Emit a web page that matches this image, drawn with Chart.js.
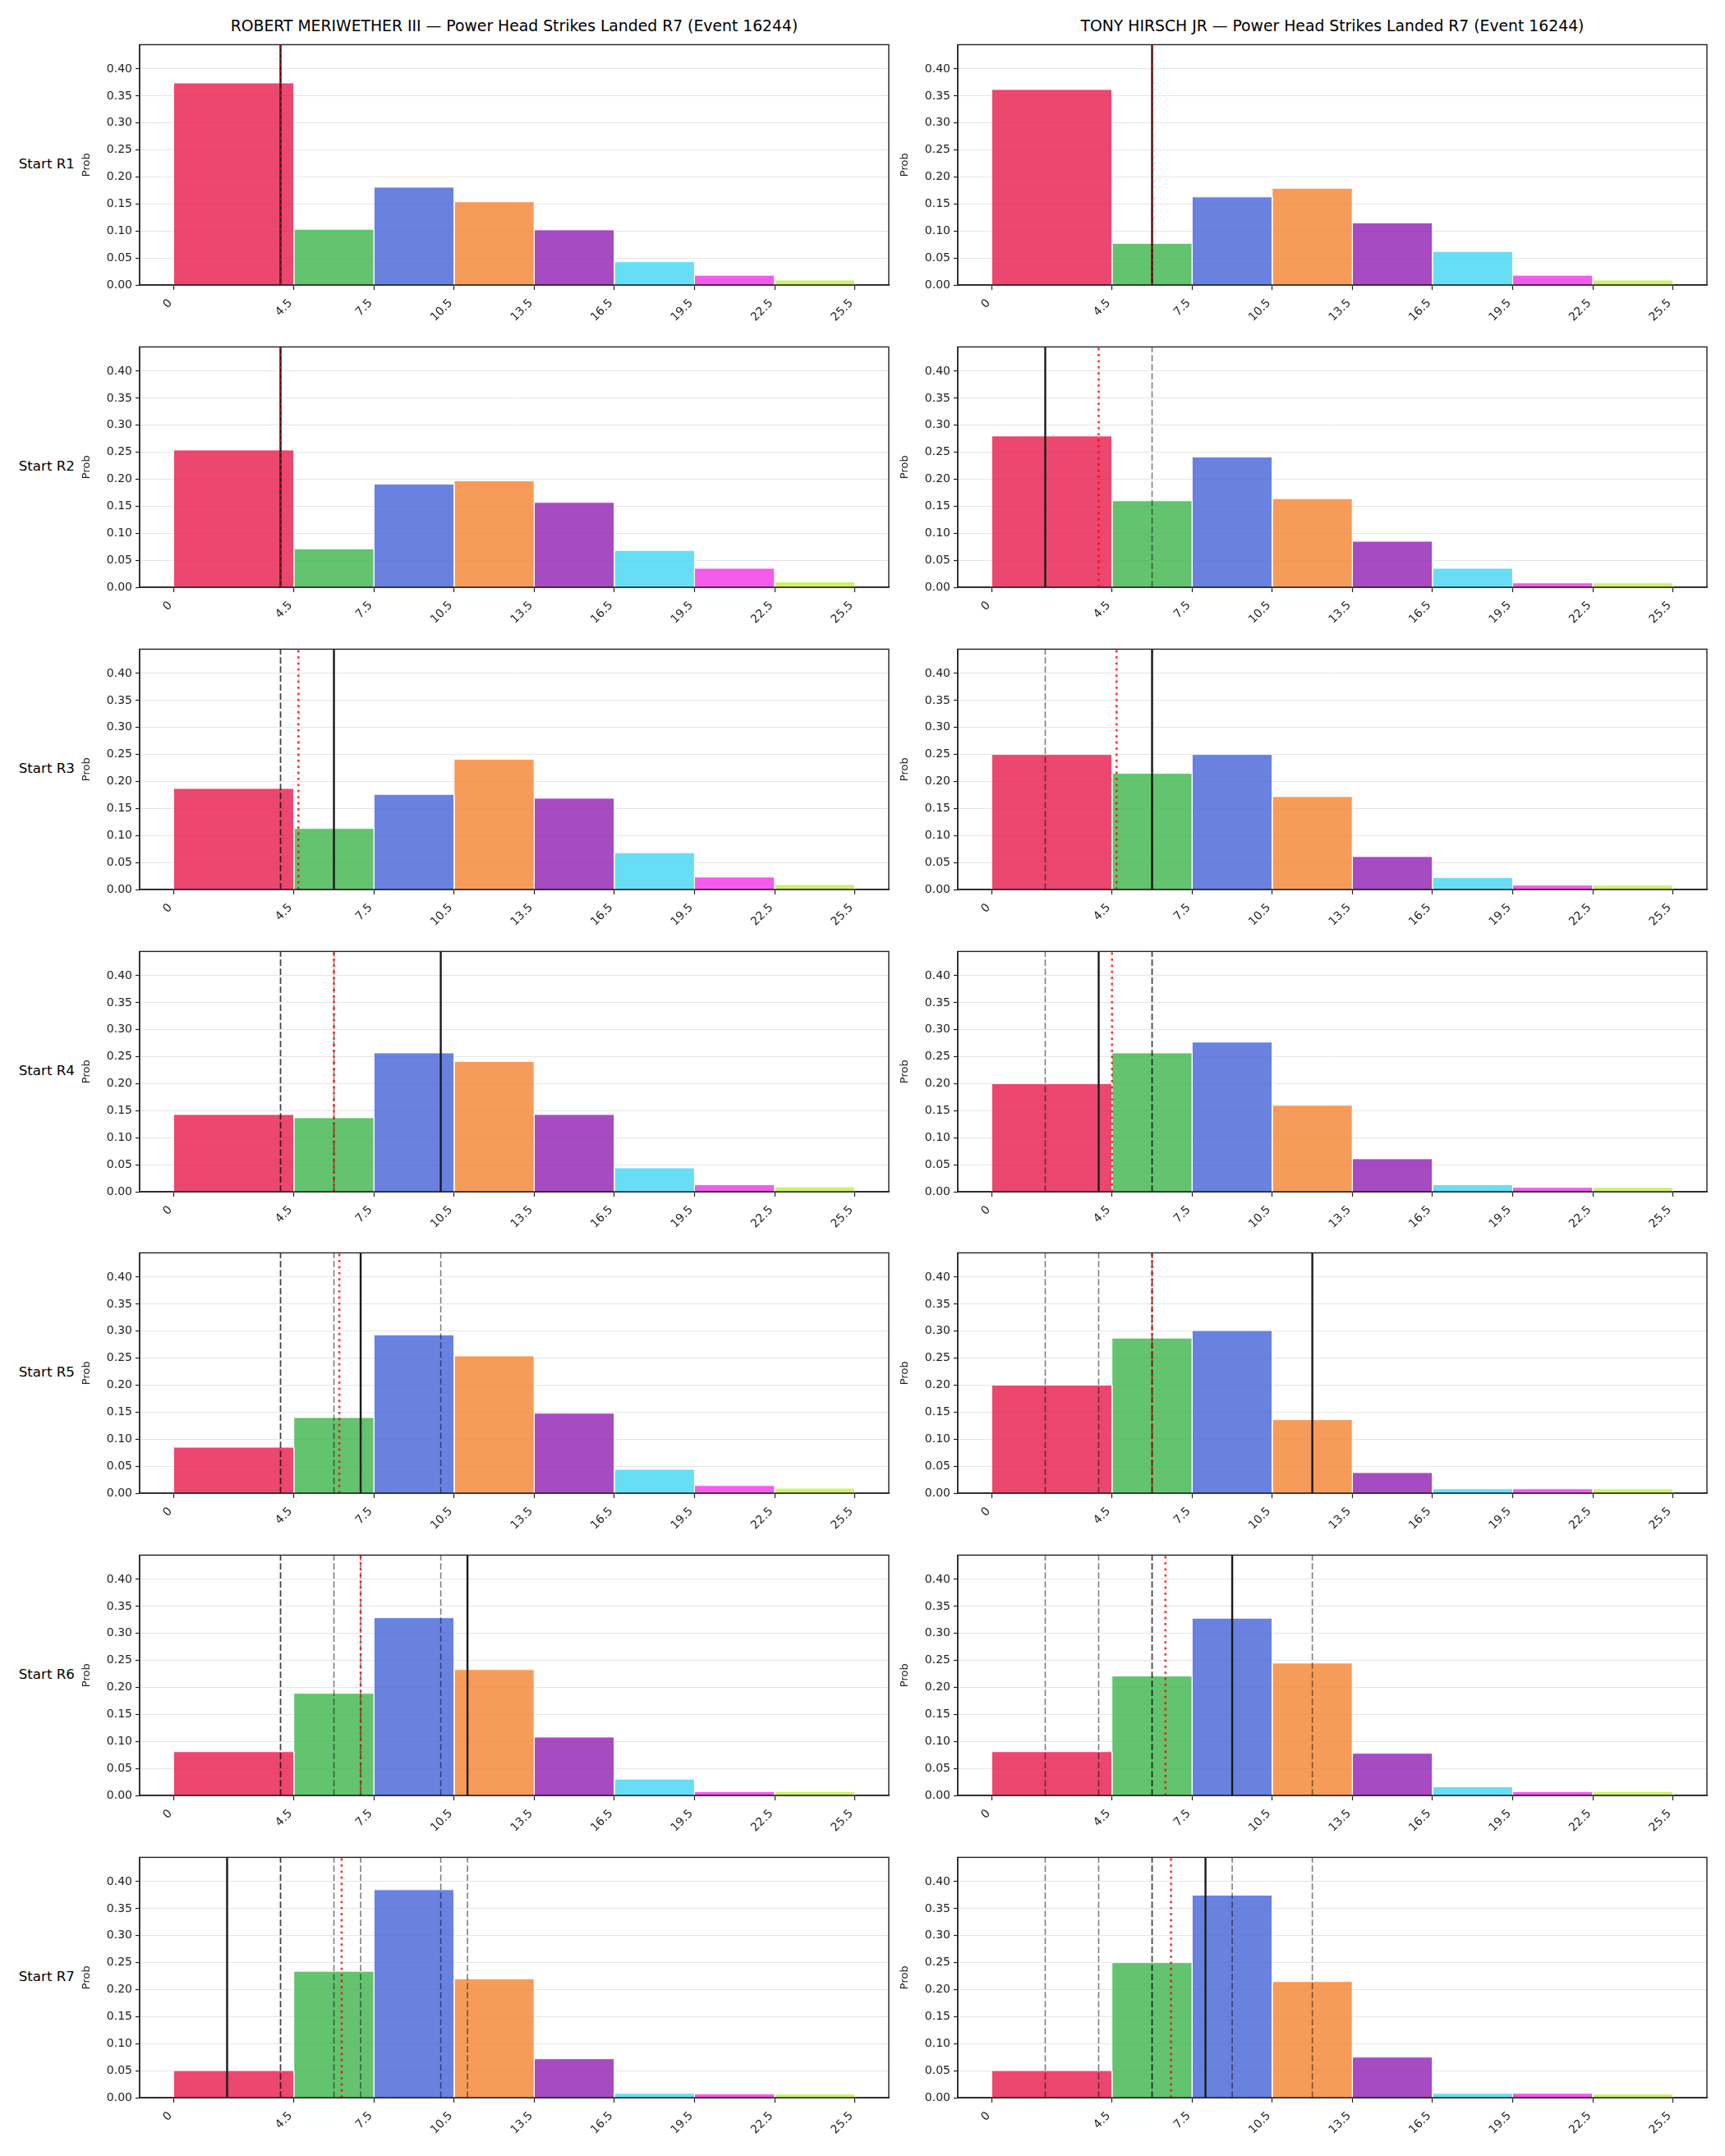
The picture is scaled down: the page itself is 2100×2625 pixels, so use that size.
<!DOCTYPE html>
<html><head><meta charset="utf-8">
<script src="https://cdn.jsdelivr.net/npm/chart.js@4.4.1/dist/chart.umd.min.js"></script>
<style>
html,body{margin:0;padding:0;background:#fff;}
body{width:2100px;height:2625px;position:relative;overflow:hidden;font-family:"DejaVu Sans",sans-serif;}
canvas{position:absolute;}
.title{position:absolute;font-size:18.8px;color:#000;white-space:nowrap;transform:translate(-50%,-50%);}
.rowlab{position:absolute;font-size:16.7px;color:#000;white-space:nowrap;transform:translate(-100%,-50%);}
</style></head><body>
<script>
// ---------------- DATA ----------------
const fighters = ['ROBERT MERIWETHER III', 'TONY HIRSCH JR'];
const titleSuffix = ' — Power Head Strikes Landed R7 (Event 16244)';
const rowLabels = ['Start R1','Start R2','Start R3','Start R4','Start R5','Start R6','Start R7'];
const binEdges = [0, 4.5, 7.5, 10.5, 13.5, 16.5, 19.5, 22.5, 25.5];
const xTickValues = [0, 4.5, 7.5, 10.5, 13.5, 16.5, 19.5, 22.5, 25.5];
const xTickLabels = ['0', '4.5', '7.5', '10.5', '13.5', '16.5', '19.5', '22.5', '25.5'];
const yTickValues = [0, 0.05, 0.10, 0.15, 0.20, 0.25, 0.30, 0.35, 0.40];
const binColors = ['#e6194b','#3cb44b','#4363d8','#f58231','#911eb4','#42d4f4','#f032e6','#bfef45'];

const meriwetherR1 = [0.374, 0.103, 0.181, 0.154, 0.102, 0.043, 0.018, 0.009];
const meriwetherR2 = [0.254, 0.071, 0.191, 0.197, 0.157, 0.068, 0.035, 0.010];
const meriwetherR3 = [0.187, 0.113, 0.176, 0.241, 0.169, 0.068, 0.023, 0.009];
const meriwetherR4 = [0.143, 0.137, 0.257, 0.241, 0.143, 0.044, 0.013, 0.009];
const meriwetherR5 = [0.085, 0.140, 0.293, 0.254, 0.148, 0.044, 0.014, 0.009];
const meriwetherR6 = [0.081, 0.189, 0.329, 0.233, 0.108, 0.030, 0.007, 0.007];
const meriwetherR7 = [0.050, 0.234, 0.385, 0.220, 0.072, 0.008, 0.007, 0.007];

const hirschR1 = [0.362, 0.077, 0.163, 0.179, 0.115, 0.062, 0.018, 0.009];
const hirschR2 = [0.280, 0.160, 0.241, 0.164, 0.085, 0.035, 0.008, 0.008];
const hirschR3 = [0.250, 0.215, 0.250, 0.172, 0.061, 0.022, 0.008, 0.008];
const hirschR4 = [0.200, 0.257, 0.277, 0.160, 0.061, 0.013, 0.008, 0.008];
const hirschR5 = [0.200, 0.287, 0.301, 0.136, 0.038, 0.008, 0.008, 0.008];
const hirschR6 = [0.081, 0.221, 0.328, 0.245, 0.078, 0.016, 0.007, 0.007];
const hirschR7 = [0.050, 0.250, 0.375, 0.215, 0.075, 0.008, 0.008, 0.007];

// line marked for each round (solid); earlier rounds shown dashed; red dotted = running average
const meriwetherLines = [4, 4, 6, 10, 7, 11, 2];
const hirschLines     = [6, 2, 6, 4, 12, 9, 8];
const meriwetherAvg   = [4, 4, 4.67, 6, 6.2, 7, 6.29];
const hirschAvg       = [6, 4, 4.67, 4.5, 6, 6.5, 6.71];

const meriwetherRounds = [meriwetherR1, meriwetherR2, meriwetherR3, meriwetherR4, meriwetherR5, meriwetherR6, meriwetherR7];
const hirschRounds = [hirschR1, hirschR2, hirschR3, hirschR4, hirschR5, hirschR6, hirschR7];

// ---------------- LAYOUT ----------------
const FONT = '"DejaVu Sans", sans-serif';
const frameLeft = [170, 1166];
const frameTop = [50, 418, 786, 1154, 1521, 1889, 2257];
const FW = 912, FH = 297;
const YW = 72, PT = 8, PR = 10, XH = 70;
const X_MIN = -1.275, X_MAX = 26.775, Y_MAX = 0.445;

function hexA(hex, a) {
  const n = parseInt(hex.slice(1), 16);
  return `rgba(${(n>>16)&255},${(n>>8)&255},${n&255},${a})`;
}

const framePlugin = {
  id: 'frame',
  afterDraw(chart) {
    const {ctx, chartArea: a} = chart;
    ctx.save();
    ctx.strokeStyle = '#222';
    ctx.lineWidth = 1.4;
    ctx.strokeRect(a.left, a.top, a.right - a.left, a.bottom - a.top);
    ctx.restore();
  }
};

function vline(v, style, order) {
  return Object.assign({
    type: 'line',
    data: [{x: v, y: 0}, {x: v, y: Y_MAX}],
    pointRadius: 0, fill: false, tension: 0, order
  }, style);
}

function makePanel(col, row) {
  const probs = (col === 0 ? meriwetherRounds : hirschRounds)[row];
  const lines = col === 0 ? meriwetherLines : hirschLines;
  const avg = (col === 0 ? meriwetherAvg : hirschAvg)[row];

  const cv = document.createElement('canvas');
  const w = FW + YW + PR, h = FH + PT + XH;
  cv.width = w; cv.height = h;
  cv.style.left = (frameLeft[col] - YW) + 'px';
  cv.style.top = (frameTop[row] - PT) + 'px';
  cv.style.width = w + 'px'; cv.style.height = h + 'px';
  document.body.appendChild(cv);

  const datasets = [];
  probs.forEach((p, i) => {
    const a = binEdges[i], b = binEdges[i + 1];
    datasets.push({
      type: 'line',
      data: [{x: a, y: 0}, {x: a, y: p}, {x: b, y: p}, {x: b, y: 0}],
      fill: 'origin',
      backgroundColor: hexA(binColors[i], 0.8),
      borderColor: 'rgba(255,255,255,0.85)',
      borderWidth: 1,
      pointRadius: 0, tension: 0, order: 10
    });
  });
  for (let k = 0; k < row; k++) {
    datasets.push(vline(lines[k], {borderColor: 'rgba(0,0,0,0.5)', borderWidth: 1.6, borderDash: [7.7, 3.3]}, 3));
  }
  datasets.push(vline(lines[row], {borderColor: '#1a1a1a', borderWidth: 2.4}, 2));
  datasets.push(vline(avg, {borderColor: 'rgba(255,0,0,0.8)', borderWidth: 2.6, borderDash: [2.8, 4.6]}, 1));

  new Chart(cv, {
    type: 'line',
    data: {datasets},
    options: {
      responsive: false, animation: false, devicePixelRatio: 1,
      layout: {padding: {left: 0, top: PT, right: PR, bottom: 0}},
      plugins: {legend: {display: false}, tooltip: {enabled: false}},
      scales: {
        x: {
          type: 'linear', min: X_MIN, max: X_MAX,
          afterFit(s) { s.height = XH; },
          afterBuildTicks(s) { s.ticks = xTickValues.map(v => ({value: v})); },
          ticks: {
            autoSkip: false, minRotation: 45, maxRotation: 45, padding: 8, labelOffset: -4,
            color: '#222', font: {family: FONT, size: 14},
            callback: (v, i) => xTickLabels[i]
          },
          grid: {drawOnChartArea: false, drawTicks: true, tickLength: 6, tickColor: '#222', tickWidth: 1.2},
          border: {display: true, color: '#222', width: 1.4}
        },
        y: {
          type: 'linear', min: 0, max: Y_MAX,
          afterFit(s) { s.width = YW; },
          afterBuildTicks(s) { s.ticks = yTickValues.map(v => ({value: v})); },
          ticks: {
            padding: 4, color: '#222', font: {family: FONT, size: 14},
            callback: v => Number(v).toFixed(2)
          },
          grid: {color: '#e4e4e4', lineWidth: 1, drawTicks: true, tickLength: 5, tickColor: '#222', tickWidth: 1.2},
          border: {display: true, color: '#222', width: 1.4},
          title: {display: true, text: 'Prob', color: '#222', font: {family: FONT, size: 13}, padding: 0}
        }
      }
    },
    plugins: [framePlugin]
  });
}

// titles
fighters.forEach((f, col) => {
  const d = document.createElement('div');
  d.className = 'title';
  d.textContent = f + titleSuffix;
  d.style.left = (frameLeft[col] + FW / 2) + 'px';
  d.style.top = '31px';
  document.body.appendChild(d);
});
// row labels
rowLabels.forEach((t, row) => {
  const d = document.createElement('div');
  d.className = 'rowlab';
  d.textContent = t;
  d.style.left = '91px';
  d.style.top = (frameTop[row] + FH / 2) + 'px';
  document.body.appendChild(d);
});

for (let row = 0; row < 7; row++) {
  for (let col = 0; col < 2; col++) makePanel(col, row);
}
</script>
</body></html>
